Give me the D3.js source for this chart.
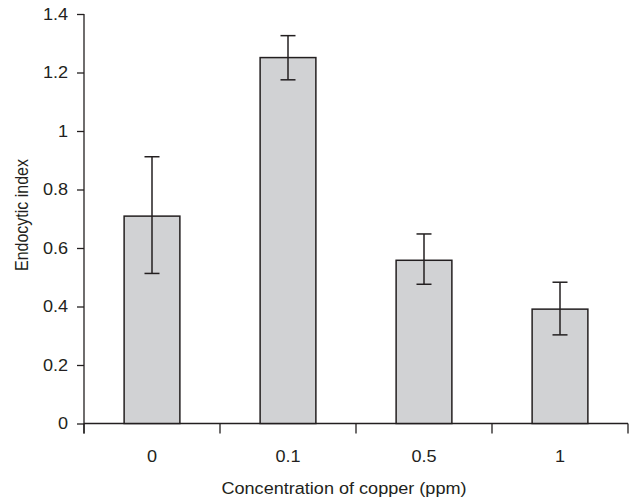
<!DOCTYPE html>
<html>
<head>
<meta charset="utf-8">
<script src="https://cdn.jsdelivr.net/npm/d3@7"></script>
<style>
  body { margin: 0; background: #fff; }
  text { font-family: "Liberation Sans", Arial, Helvetica, sans-serif; fill: #231f20; }
</style>
</head>
<body>
<div id="chart"></div>
<script>
var categories = ["0", "0.1", "0.5", "1"];
var means = [0.709, 1.251, 0.558, 0.391];
var err_high = [0.912, 1.326, 0.648, 0.483];
var err_low = [0.513, 1.175, 0.476, 0.303];
var y_ticks = [0, 0.2, 0.4, 0.6, 0.8, 1, 1.2, 1.4];

var width = 633, height = 501;
var margin = {top: 14, right: 5, bottom: 77, left: 84};
var axis_color = "#231f20";
var stretch = 1.13; // the source text is a bit wide

var svg = d3.select("#chart").append("svg")
    .attr("width", width)
    .attr("height", height);

var x = d3.scaleBand()
    .domain(categories)
    .range([margin.left, 628])
    .padding(0);

var y = d3.scaleLinear()
    .domain([0, 1.4])
    .range([height - margin.bottom - 0.5, margin.top]);

var bar_w = x.bandwidth() * 0.41;
var y0 = y(0);

// y axis
var y_axis = svg.append("g")
    .attr("transform", "translate(" + margin.left + ",0)")
    .call(d3.axisLeft(y)
        .tickValues(y_ticks)
        .tickSize(7)
        .tickSizeOuter(0)
        .tickPadding(9)
        .tickFormat(function(d) { return String(+d.toFixed(1)); }));
y_axis.select(".domain").remove();
y_axis.selectAll(".tick line").attr("stroke", axis_color).attr("stroke-width", 1.3);
y_axis.selectAll(".tick text")
    .attr("font-size", 16)
    .attr("font-family", "Liberation Sans, Arial, sans-serif")
    .attr("fill", axis_color)
    .attr("x", -16 / stretch)
    .attr("transform", "scale(" + stretch + ",1)");

svg.append("line")
    .attr("x1", margin.left).attr("x2", margin.left)
    .attr("y1", y(1.4)).attr("y2", y0 + 10)
    .attr("stroke", axis_color).attr("stroke-width", 1.3);

// x axis line + boundary ticks
svg.append("line")
    .attr("x1", margin.left).attr("x2", x.range()[1])
    .attr("y1", y0).attr("y2", y0)
    .attr("stroke", axis_color).attr("stroke-width", 1.3);

var bounds = categories.map(function(c) { return x(c); }).concat([x.range()[1]]);
svg.selectAll(".xtick")
    .data(bounds)
    .enter()
    .append("line")
    .attr("class", "xtick")
    .attr("x1", function(d) { return d; })
    .attr("x2", function(d) { return d; })
    .attr("y1", y0)
    .attr("y2", y0 + 10)
    .attr("stroke", axis_color).attr("stroke-width", 1.3);

svg.selectAll(".xlabel")
    .data(categories)
    .enter()
    .append("text")
    .attr("class", "xlabel")
    .attr("transform", function(d) {
        return "translate(" + (x(d) + x.bandwidth() / 2) + ",462) scale(" + stretch + ",1)";
    })
    .attr("text-anchor", "middle")
    .attr("font-size", 16)
    .text(function(d) { return d; });

// bars
var bar = svg.selectAll(".bar")
    .data(categories)
    .enter()
    .append("g")
    .attr("class", "bar");

bar.append("rect")
    .attr("x", function(d) { return x(d) + (x.bandwidth() - bar_w) / 2; })
    .attr("y", function(d, i) { return y(means[i]); })
    .attr("width", bar_w)
    .attr("height", function(d, i) { return y0 - y(means[i]); })
    .attr("fill", "#d1d2d4")
    .attr("stroke", axis_color)
    .attr("stroke-width", 1.5);

// error bars
bar.append("line")
    .attr("x1", function(d) { return x(d) + x.bandwidth() / 2; })
    .attr("x2", function(d) { return x(d) + x.bandwidth() / 2; })
    .attr("y1", function(d, i) { return y(err_low[i]); })
    .attr("y2", function(d, i) { return y(err_high[i]); })
    .attr("stroke", axis_color).attr("stroke-width", 1.5);

[err_low, err_high].forEach(function(arr) {
    bar.append("line")
        .attr("x1", function(d) { return x(d) + x.bandwidth() / 2 - 7.5; })
        .attr("x2", function(d) { return x(d) + x.bandwidth() / 2 + 7.5; })
        .attr("y1", function(d, i) { return y(arr[i]); })
        .attr("y2", function(d, i) { return y(arr[i]); })
        .attr("stroke", axis_color).attr("stroke-width", 1.5);
});

// titles
svg.append("text")
    .attr("transform", "translate(344,494) scale(" + stretch + ",1)")
    .attr("text-anchor", "middle")
    .attr("font-size", 16)
    .text("Concentration of copper (ppm)");

svg.append("text")
    .attr("transform", "translate(28,215) scale(1.15,1) rotate(-90)")
    .attr("text-anchor", "middle")
    .attr("font-size", 16)
    .text("Endocytic index");
</script>
</body>
</html>
